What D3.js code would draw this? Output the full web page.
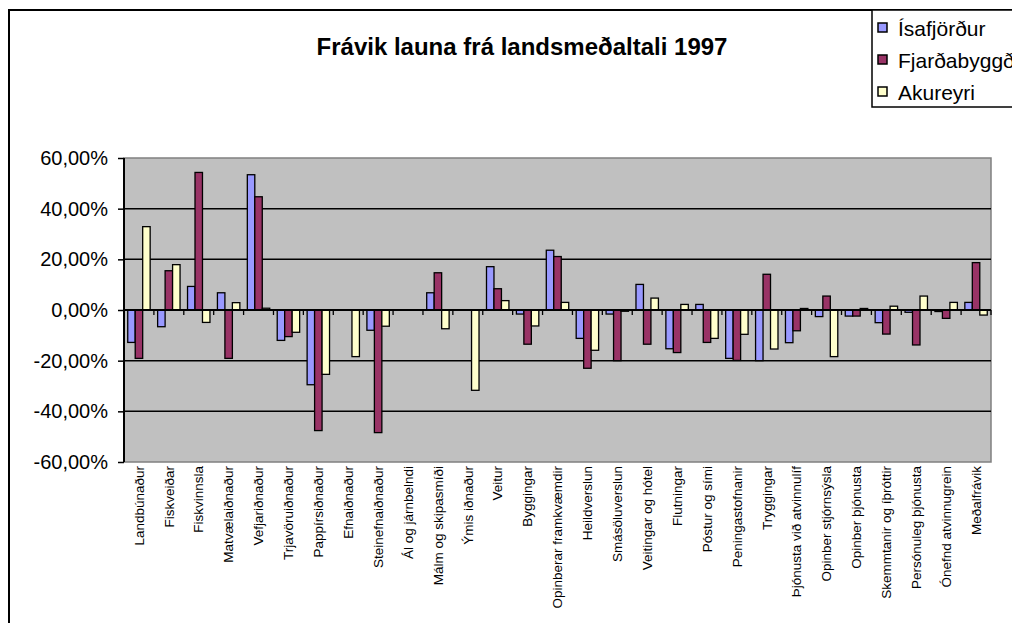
<!DOCTYPE html>
<html>
<head>
<meta charset="utf-8">
<script src="https://cdn.jsdelivr.net/npm/d3@7"></script>
<style>
  body { margin: 0; background: #fff; }
  text { font-family: "Liberation Sans", Arial, sans-serif; }
</style>
</head>
<body>
<script>
// Data (fractions, null = no bar)
const categories = [
  'Landbúnaður', 'Fiskveiðar', 'Fiskvinnsla', 'Matvælaiðnaður', 'Vefjariðnaður',
  'Trjavöruiðnaður', 'Pappírsiðnaður', 'Efnaiðnaður', 'Steinefnaiðnaður', 'Ál og járnbelndi',
  'Málm og skipasmíði', 'Ýmis iðnaður', 'Veitur', 'Byggingar', 'Opinberar framkvæmdir',
  'Heildverslun', 'Smásöluverslun', 'Veitingar og hótel', 'Flutningar', 'Póstur og sími',
  'Peningastofnanir', 'Tryggingar', 'Þjónusta við atvinnulíf', 'Opinber stjórnsýsla', 'Opinber þjónusta',
  'Skemmtanir og íþróttir', 'Persónuleg þjónusta', 'Ónefnd atvinnugrein', 'Meðalfrávik'
];
const seriesNames = ['Ísafjörður', 'Fjarðabyggð', 'Akureyri'];
const isafjordur = [
  -0.128, -0.066, 0.093, 0.068, 0.534, -0.120, -0.295, null, -0.080, null,
  0.068, null, 0.171, -0.016, 0.236, -0.112, -0.016, 0.101, -0.153, 0.022,
  -0.191, -0.200, -0.129, -0.026, -0.024, -0.050, -0.009, -0.006, 0.030
];
const fjardabyggd = [
  -0.191, 0.155, 0.543, -0.191, 0.447, -0.105, -0.476, null, -0.484, null,
  0.147, null, 0.084, -0.135, 0.211, -0.230, -0.200, -0.135, -0.168, -0.128,
  -0.199, 0.141, -0.082, 0.055, -0.024, -0.095, -0.138, -0.033, 0.187
];
const akureyri = [
  0.329, 0.179, -0.049, 0.029, 0.007, -0.088, -0.254, -0.184, -0.064, null,
  -0.074, -0.317, 0.037, -0.063, 0.030, -0.159, -0.005, 0.047, 0.022, -0.112,
  -0.096, -0.154, 0.006, -0.184, 0.006, 0.015, 0.055, 0.030, -0.020
];
const yTicks = [-0.6, -0.4, -0.2, 0, 0.2, 0.4, 0.6];
const colors = ['#9999ff', '#993366', '#ffffcc'];

const values = [isafjordur, fjardabyggd, akureyri];
const width = 1012, height = 623;
const plot = { left: 124, right: 991, top: 158, bottom: 462 };

const locale = d3.formatLocale({ decimal: ',', thousands: '.', grouping: [3], currency: ['', ''], minus: '-' });
const pct = locale.format('.2%');

const svg = d3.select('body').append('svg')
  .attr('width', width)
  .attr('height', height);

// chart frame
svg.append('rect')
  .attr('x', 9).attr('y', 10)
  .attr('width', 1100).attr('height', 700)
  .attr('fill', 'white').attr('stroke', 'black').attr('stroke-width', 2);

const y = d3.scaleLinear().domain([-0.6, 0.6]).range([plot.bottom, plot.top]);
const x = d3.scaleBand().domain(categories).range([plot.left, plot.right]);
const xs = d3.scaleBand().domain(seriesNames)
  .range([x.bandwidth() / 8, x.bandwidth() * 7 / 8]);

// plot background
svg.append('rect')
  .attr('x', plot.left).attr('y', plot.top)
  .attr('width', plot.right - plot.left).attr('height', plot.bottom - plot.top)
  .attr('fill', '#c0c0c0').attr('stroke', '#808080').attr('stroke-width', 1.5);

// gridlines
svg.append('g').selectAll('line')
  .data(yTicks.filter(d => d !== -0.6 && d !== 0.6 && d !== 0))
  .enter().append('line')
  .attr('x1', plot.left).attr('x2', plot.right)
  .attr('y1', d => y(d)).attr('y2', d => y(d))
  .attr('stroke', 'black').attr('stroke-width', 1.5);

// bars
const rows = [];
categories.forEach((c, i) => {
  seriesNames.forEach((s, j) => {
    if (values[j][i] !== null) rows.push({ cat: c, s: s, v: values[j][i], color: colors[j] });
  });
});
svg.append('g').selectAll('rect')
  .data(rows)
  .enter().append('rect')
  .attr('x', d => x(d.cat) + xs(d.s))
  .attr('width', xs.bandwidth())
  .attr('y', d => Math.min(y(d.v), y(0)))
  .attr('height', d => Math.abs(y(d.v) - y(0)))
  .attr('fill', d => d.color)
  .attr('stroke', 'black').attr('stroke-width', 1.3);

// zero axis line with ticks between categories
svg.append('line')
  .attr('x1', plot.left).attr('x2', plot.right)
  .attr('y1', y(0)).attr('y2', y(0))
  .attr('stroke', 'black').attr('stroke-width', 1.8);
svg.append('g').selectAll('line')
  .data(categories.slice(1).map(c => x(c)).concat([plot.right]))
  .enter().append('line')
  .attr('x1', d => d).attr('x2', d => d)
  .attr('y1', y(0)).attr('y2', y(0) + 5)
  .attr('stroke', 'black').attr('stroke-width', 1.3);

// y axis
const yaxis = svg.append('g')
  .attr('transform', `translate(${plot.left}, 0)`)
  .call(d3.axisLeft(y).tickValues(yTicks).tickFormat(pct).tickSize(6).tickPadding(10));
yaxis.select('.domain').attr('stroke-width', 2).attr('d', `M-0,${plot.top}V${plot.bottom}`);
yaxis.selectAll('.tick line').attr('stroke-width', 1.5);
yaxis.selectAll('text')
  .style('font-family', '"Liberation Sans", Arial, sans-serif')
  .style('font-size', '20px')
  .attr('fill', 'black');

// x axis labels
const xaxis = svg.append('g')
  .attr('transform', `translate(0, ${plot.bottom})`)
  .call(d3.axisBottom(x).tickSize(0));
xaxis.select('.domain').remove();
xaxis.selectAll('text')
  .attr('transform', 'rotate(-90)')
  .attr('text-anchor', 'end')
  .attr('x', -4).attr('y', 0).attr('dy', '0.35em')
  .style('font-family', '"Liberation Sans", Arial, sans-serif')
  .style('font-size', '13.5px')
  .attr('fill', 'black');

// title
svg.append('text')
  .text('Frávik launa frá landsmeðaltali 1997')
  .attr('x', 522).attr('y', 55)
  .attr('text-anchor', 'middle')
  .style('font-size', '24px').style('font-weight', 'bold');

// legend
svg.append('rect')
  .attr('x', 872).attr('y', 10)
  .attr('width', 200).attr('height', 97)
  .attr('fill', 'white').attr('stroke', 'black').attr('stroke-width', 1.5);
const legend = svg.append('g').selectAll('g')
  .data(seriesNames)
  .enter().append('g')
  .attr('transform', (d, i) => `translate(878, ${36 + i * 32})`);
legend.append('rect')
  .attr('x', 0).attr('y', -13)
  .attr('width', 9).attr('height', 9)
  .attr('fill', (d, i) => colors[i])
  .attr('stroke', 'black').attr('stroke-width', 1.5);
legend.append('text')
  .text(d => d)
  .attr('x', 20).attr('y', 0)
  .style('font-size', '21px');
</script>
</body>
</html>
